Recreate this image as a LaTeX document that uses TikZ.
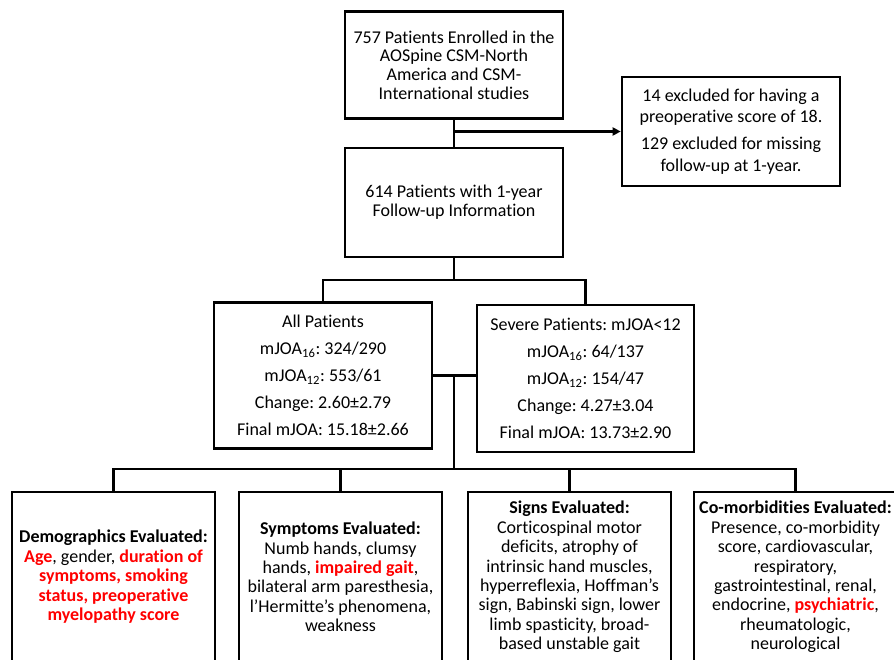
\documentclass[tikz,border=0pt]{standalone}
\usepackage{fontspec}
\setmainfont{Carlito}[Ligatures={NoCommon}]
\usetikzlibrary{arrows.meta}
\definecolor{keyred}{RGB}{255,0,0}
\newcommand{\keyvar}[1]{\textcolor{keyred}{\textbf{#1}}}
\frenchspacing

\begin{document}
\begin{tikzpicture}[x=0.75pt,y=-0.75pt,
    box/.style={draw,line width=2pt,align=center,inner sep=2pt,
      font=\fontsize{13.5}{14}\selectfont},
    topbox/.style={box,minimum width=163.5pt,minimum height=80pt},
    statbox/.style={box,minimum width=163.5pt,minimum height=109.5pt,
      font=\fontsize{13.5}{20.25}\selectfont},
    evalbox/.style={box,minimum width=152.25pt,minimum height=127.5pt,
      font=\fontsize{13.5}{14.6}\selectfont}]
  \useasboundingbox (0,0) rectangle (894,660);
  \clip (0,0) rectangle (894,660);
  \draw
    (454,65) node[topbox] (enrolled){757 Patients Enrolled in the\\AOSpine CSM-North\\America and CSM-\\International studies}
    (731,131.5) node[topbox,minimum height=81.75pt,font=\fontsize{13.5}{16.3}\selectfont] (excluded){14 excluded for having a\\preoperative score of 18.\\[4pt]129 excluded for missing\\follow-up at 1-year.}
    (454,202.5) node[topbox,minimum height=81.75pt,font=\fontsize{13.5}{14.5}\selectfont] (followup){614 Patients with 1-year\\Follow-up Information}
    (323,375.5) node[statbox] (all){All Patients\\mJOA\textsubscript{16}: 324/290\\mJOA\textsubscript{12}: 553/61\\Change: 2.60±2.79\\Final mJOA: 15.18±2.66}
    (585.5,378.5) node[statbox,minimum width=162.75pt,minimum height=110.25pt] (severe){Severe Patients: mJOA<12\\mJOA\textsubscript{16}: 64/137\\mJOA\textsubscript{12}: 154/47\\Change: 4.27±3.04\\Final mJOA: 13.73±2.90}
    (113.5,577) node[evalbox] (demo){\textbf{Demographics Evaluated:}\\\keyvar{Age}, gender, \keyvar{duration of}\\\keyvar{symptoms, smoking}\\\keyvar{status, preoperative}\\\keyvar{myelopathy score}}
    (340.5,577) node[evalbox] (symptoms){\textbf{Symptoms Evaluated:}\\Numb hands, clumsy\\hands, \keyvar{impaired gait},\\bilateral arm paresthesia,\\l’Hermitte’s phenomena,\\weakness}
    (569.5,577) node[evalbox] (signs){\textbf{Signs Evaluated:}\\Corticospinal motor\\deficits, atrophy of\\intrinsic hand muscles,\\hyperreflexia, Hoffman’s\\sign, Babinski sign, lower\\limb spasticity, broad-\\based unstable gait}
    (795.5,577) node[evalbox] (comorb){\textbf{Co-morbidities Evaluated:}\\Presence, co-morbidity\\score, cardiovascular,\\respiratory,\\gastrointestinal, renal,\\endocrine, \keyvar{psychiatric},\\rheumatologic,\\neurological};
  \coordinate (fork1) at (454,280);
  \coordinate (fork2) at (454,469);
  \begin{scope}[line width=2pt]
    \draw (enrolled) to (followup);
    \draw[-{Triangle[length=6pt,width=6pt]}] (enrolled.south |- excluded.west) to (excluded.west);
    \draw (followup.south) to (fork1);
    \draw (fork1) -| (all.north);
    \draw (fork1) -| (severe.north);
    \draw (all.east) to (all.east -| severe.west);
    \draw (fork2 |- all.east) to (fork2);
    \draw (fork2) -| (demo.north);
    \draw (fork2) -| (symptoms.north);
    \draw (fork2) -| (signs.north);
    \draw (fork2) -| (comorb.north);
  \end{scope}
\end{tikzpicture}
\end{document}
